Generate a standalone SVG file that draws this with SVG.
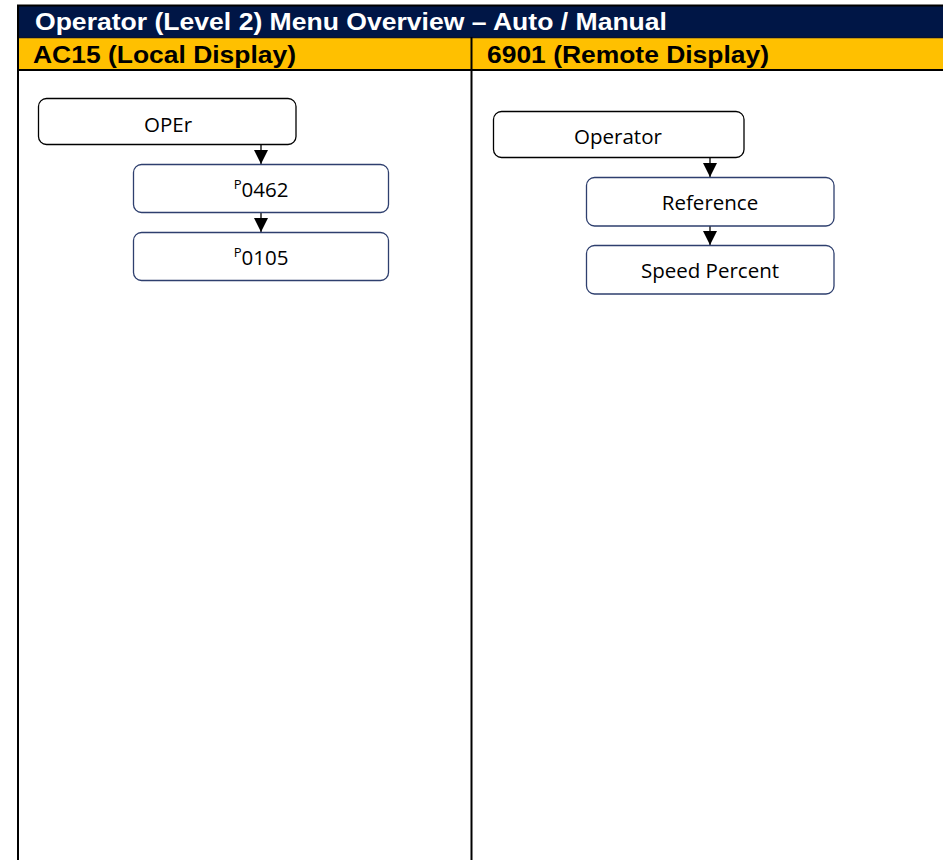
<svg xmlns="http://www.w3.org/2000/svg" width="943" height="860" viewBox="0 0 943 860">
<style>
.hdr{font-family:"Liberation Sans",Arial,sans-serif;font-weight:bold;font-size:24.5px}
.lbl{font-family:"Open Sans","Noto Sans",sans-serif;font-size:20.5px;fill:#000;text-anchor:middle}
.box1{fill:#fff;stroke:#000;stroke-width:1.3}
.box2{fill:#fff;stroke:#2E3F6E;stroke-width:1.3}
.conn{stroke:#000;stroke-width:1.3;fill:none;marker-end:url(#arr)}
.rule{stroke:#000;stroke-width:2}
</style>
<defs>
<marker id="arr" markerUnits="userSpaceOnUse" markerWidth="14" markerHeight="14" refX="14" refY="7" orient="auto" viewBox="0 0 14 14">
<path d="M0,0 L14,7 L0,14 z" fill="#000"/>
</marker>
</defs>
<rect x="0" y="0" width="943" height="860" fill="#fff"/>
<g id="table">
<rect x="18" y="5" width="930" height="32" fill="#001646"/>
<rect x="18" y="38" width="930" height="32" fill="#FFC000"/>
<line class="rule" x1="17" y1="5.5" x2="943" y2="5.5"/>
<line x1="18" y1="37.5" x2="943" y2="37.5" stroke="#0a1230" stroke-width="1.5"/>
<line class="rule" x1="17" y1="70" x2="943" y2="70"/>
<line class="rule" x1="18" y1="5" x2="18" y2="860"/>
<line class="rule" x1="471.5" y1="37" x2="471.5" y2="860"/>
<text class="hdr" x="35" y="30" fill="#fff" textLength="632" lengthAdjust="spacingAndGlyphs">Operator (Level 2) Menu Overview – Auto / Manual</text>
<text class="hdr" x="33" y="63" fill="#000" textLength="263" lengthAdjust="spacingAndGlyphs">AC15 (Local Display)</text>
<text class="hdr" x="487" y="63" fill="#000" textLength="282" lengthAdjust="spacingAndGlyphs">6901 (Remote Display)</text>
</g>
<g id="connectors">
<line class="conn" x1="261" y1="145" x2="261" y2="164"/>
<line class="conn" x1="261" y1="213" x2="261" y2="232"/>
<line class="conn" x1="710" y1="157.5" x2="710" y2="177"/>
<line class="conn" x1="710" y1="226" x2="710" y2="245"/>
</g>
<g id="node-oper">
<rect class="box1" x="38.5" y="98.5" width="257.5" height="46" rx="8"/>
<text class="lbl" x="168" y="131.5">OPEr</text>
</g>
<g id="node-p0462">
<rect class="box2" x="133.5" y="164.5" width="255" height="48" rx="8"/>
<text class="lbl" x="261" y="196.5"><tspan font-size="13" dy="-8">P</tspan><tspan dy="8">0462</tspan></text>
</g>
<g id="node-p0105">
<rect class="box2" x="133.5" y="232.5" width="255" height="48" rx="8"/>
<text class="lbl" x="261" y="264.5"><tspan font-size="13" dy="-8">P</tspan><tspan dy="8">0105</tspan></text>
</g>
<g id="node-operator">
<rect class="box1" x="493.5" y="111.5" width="250.5" height="46" rx="8"/>
<text class="lbl" x="618" y="143.5">Operator</text>
</g>
<g id="node-reference">
<rect class="box2" x="586.5" y="177.5" width="247.5" height="48.5" rx="8"/>
<text class="lbl" x="710" y="210">Reference</text>
</g>
<g id="node-speed">
<rect class="box2" x="586.5" y="245.5" width="247.5" height="48.5" rx="8"/>
<text class="lbl" x="710" y="277.5">Speed Percent</text>
</g>
</svg>
